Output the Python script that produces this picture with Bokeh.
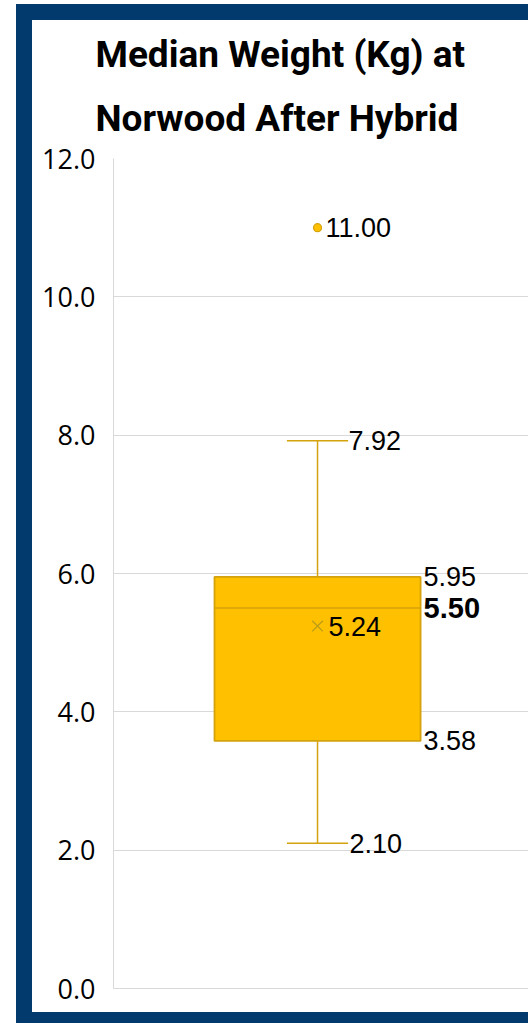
from bokeh.plotting import figure
from bokeh.models import Range1d, Title, FixedTicker, PrintfTickFormatter
from bokeh.core.properties import value
from bokeh.embed import file_html
from bokeh.resources import INLINE

# Chart data
title_lines = ["Median Weight (Kg) at", "Norwood After Hybrid"]
category = [1.0]
q1 = [3.58]
median = [5.50]
q3 = [5.95]
mean = [5.24]
whisker_low = [2.10]
whisker_high = [7.92]
outliers = [11.00]
y_ticks = [0, 2, 4, 6, 8, 10, 12]

GOLD = "#FFC000"
GOLD_LINE = "#D4A20C"
NAVY = "#023A6E"
GRID = "#D9D9D9"
BOX_W = 0.505
CAP_W = 0.15

p = figure(width=496, height=992, output_backend="svg", toolbar_location=None,
           x_range=Range1d(0.5, 1.517), y_range=Range1d(0, 12),
           min_border_left=81, min_border_right=0, min_border_top=138,
           min_border_bottom=24)
p.border_fill_color = "white"
p.background_fill_color = "white"
p.outline_line_color = None

# navy frame: a CSS outline around the chart element (does not change its size)
p.styles = {
    "outline": f"16px solid {NAVY}",
    "margin-left": "32px",
    "margin-top": "20px",
}

# axes and grid
p.yaxis.ticker = FixedTicker(ticks=y_ticks)
p.yaxis.formatter = PrintfTickFormatter(format="%.1f")
p.yaxis.major_label_text_font = "Open Sans"
p.yaxis.major_label_text_font_size = "27px"
p.yaxis.major_label_text_color = "#000000"
p.yaxis.major_label_standoff = 18
p.yaxis.major_tick_out = 0
p.yaxis.major_tick_in = 0
p.yaxis.major_tick_line_color = None
p.yaxis.minor_tick_line_color = None
p.yaxis.axis_line_color = GRID
p.xaxis.ticker = FixedTicker(ticks=[])
p.xaxis.major_tick_line_color = None
p.xaxis.minor_tick_line_color = None
p.xaxis.major_label_text_color = None
p.xaxis.axis_line_color = GRID
p.xgrid.visible = False
p.ygrid.ticker = FixedTicker(ticks=y_ticks)
p.ygrid.grid_line_color = GRID
p.ygrid.grid_line_width = 1

# whiskers
p.segment(x0=category, y0=q3, x1=category, y1=whisker_high, line_color=GOLD_LINE, line_width=1.5)
p.segment(x0=category, y0=q1, x1=category, y1=whisker_low, line_color=GOLD_LINE, line_width=1.5)
p.segment(x0=[c - CAP_W / 2 for c in category], y0=whisker_high,
          x1=[c + CAP_W / 2 for c in category], y1=whisker_high, line_color=GOLD_LINE, line_width=1.5)
p.segment(x0=[c - CAP_W / 2 for c in category], y0=whisker_low,
          x1=[c + CAP_W / 2 for c in category], y1=whisker_low, line_color=GOLD_LINE, line_width=1.5)

# box with median and mean
p.vbar(x=category, bottom=q1, top=q3, width=BOX_W, fill_color=GOLD, line_color=GOLD_LINE, line_width=1.8)
p.segment(x0=[c - BOX_W / 2 for c in category], y0=median,
          x1=[c + BOX_W / 2 for c in category], y1=median, line_color=GOLD_LINE, line_width=1.5)
p.scatter(x=category, y=mean, marker="x", size=15, line_color="#B89B1A", line_width=1.2)
p.scatter(x=category * len(outliers), y=outliers, marker="circle", size=8,
          fill_color=GOLD, line_color=GOLD_LINE, line_width=1.2)

# value labels
label_font = value("Liberation Sans")
def fmt(vals):
    return [f"{v:.2f}" for v in vals]

common = dict(text_align="left", text_baseline="middle", text_font=label_font,
              text_font_size="27px", text_color="#000000")
p.text(x=category, y=outliers, text=fmt(outliers), x_offset=8, **common)
p.text(x=category, y=whisker_high, text=fmt(whisker_high), x_offset=31, **common)
p.text(x=category, y=whisker_low, text=fmt(whisker_low), x_offset=32, **common)
p.text(x=category, y=mean, text=fmt(mean), x_offset=11, **common)
box_right = [c + BOX_W / 2 for c in category]
p.text(x=box_right, y=q3, text=fmt(q3), x_offset=3, **common)
p.text(x=box_right, y=q1, text=fmt(q1), x_offset=3, **common)
p.text(x=box_right, y=median, text=fmt(median), x_offset=3, text_align="left",
       text_baseline="middle", text_font=label_font, text_font_size="29px",
       text_font_style="bold", text_color="#000000")

# two-line title, stacked outward from the plot area
for line, standoff in zip(reversed(title_lines), [38, 0]):
    p.add_layout(Title(text=line, align="left", offset=-18, standoff=standoff,
                       text_font="Roboto", text_font_style="bold", text_font_size="37px",
                       text_color="#000000"), "above")

open("out.html", "w").write(file_html(p, INLINE))
